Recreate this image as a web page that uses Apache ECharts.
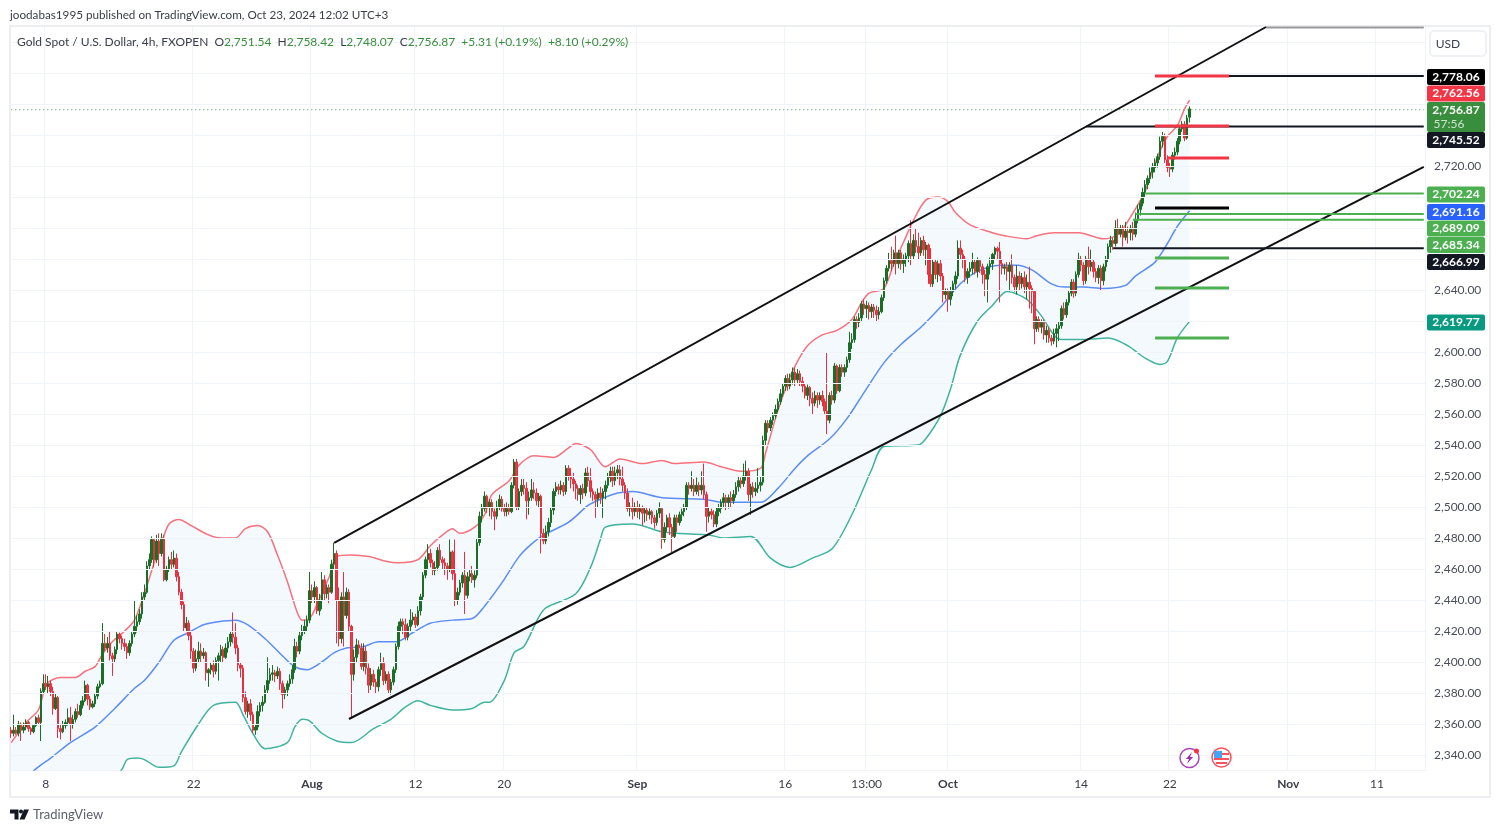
<!DOCTYPE html>
<html>
<head>
<meta charset="utf-8">
<style>
html, body { margin: 0; padding: 0; background: #fff; }
#chart { width: 1500px; height: 832px; }
</style>
<script src="https://cdn.jsdelivr.net/npm/echarts@6/dist/echarts.min.js"></script>
</head>
<body>
<div id="chart"></div>
<script>
// 4h bars, each row is [open, close, low, high]
const julyBars = [
[2356,2354,2351,2358],[2354,2356,2352,2366],[2356,2354,2353,2358],[2354,2360,2352,2362],[2360,2356,2349,2361],[2356,2358,2354,2361],[2358,2361,2356,2363],[2361,2357,2355,2362],[2357,2355,2353,2358],[2355,2359,2354,2360],
[2359,2364,2358,2365],[2364,2361,2360,2366],[2361,2381,2349,2383],[2381,2386,2380,2392],[2386,2384,2382,2392],[2384,2386,2380,2391],[2386,2381,2378,2388],[2381,2370,2366,2384],[2370,2377,2369,2380],[2377,2357,2351,2378],
[2357,2355,2350,2360],[2355,2359,2354,2362],[2359,2361,2357,2363],[2361,2364,2359,2370],[2364,2360,2349,2371],[2360,2363,2357,2366],[2363,2368,2361,2370],[2368,2366,2364,2373],[2366,2372,2365,2375],[2372,2375,2370,2378],
[2375,2385,2374,2388],[2385,2376,2372,2386],[2376,2371,2369,2378],[2371,2373,2370,2375],[2373,2378,2371,2380],[2378,2384,2376,2386],[2384,2386,2383,2388],[2386,2412,2385,2425],[2412,2409,2407,2418],[2409,2412,2406,2416],
[2412,2404,2401,2420],[2404,2402,2391,2406],[2402,2408,2400,2410],[2408,2418,2405,2420],[2418,2415,2412,2419],[2415,2412,2408,2417],[2412,2410,2407,2415],[2410,2406,2402,2412],[2406,2412,2404,2414],[2412,2418,2410,2420],
[2418,2423,2416,2440],[2423,2426,2419,2430],[2426,2431,2424,2434],[2431,2442,2428,2445],[2442,2445,2440,2450],[2445,2462,2444,2465],[2462,2466,2460,2470],[2466,2479,2464,2481],[2479,2466,2461,2480],[2466,2478,2464,2482],
[2478,2470,2462,2483],[2470,2480,2468,2483],[2480,2453,2452,2482],[2453,2460,2452,2462],[2460,2466,2458,2468],[2466,2463,2460,2471],[2463,2467,2461,2472],[2467,2455,2452,2470],[2455,2445,2443,2458],[2445,2437,2434,2447],
[2437,2422,2420,2439],[2422,2425,2420,2429],[2425,2417,2414,2427],[2417,2407,2402,2420],[2407,2396,2393,2409],[2396,2402,2394,2408],[2402,2407,2400,2413],[2407,2404,2400,2412],[2404,2406,2402,2409],[2406,2393,2388,2407],
[2393,2395,2384,2396],[2395,2398,2392,2400],[2398,2394,2390,2401],[2394,2401,2392,2403],[2401,2404,2388,2406],[2404,2408,2400,2411],[2408,2403,2400,2410],[2403,2409,2402,2412],[2409,2413,2406,2416],[2413,2418,2410,2420],
[2418,2416,2412,2432],[2416,2409,2405,2425],[2409,2398,2394,2411],[2398,2396,2390,2400],[2396,2377,2374,2398],[2377,2368,2366,2381],[2368,2373,2364,2375],[2373,2366,2362,2376],[2366,2356,2354,2368],[2356,2358,2353,2360],
[2358,2368,2356,2372],[2368,2372,2365,2374],[2372,2374,2368,2378],[2374,2382,2373,2385],[2382,2388,2380,2403],[2388,2392,2386,2396],[2392,2393,2388,2398],[2393,2391,2387,2395],[2391,2394,2389,2397],[2394,2386,2382,2396],
[2386,2379,2370,2388],[2379,2382,2376,2384],[2382,2386,2378,2388],[2386,2389,2384,2392],[2389,2395,2386,2398],[2395,2410,2393,2415],[2410,2407,2403,2413],[2407,2417,2405,2420],[2417,2420,2414,2424],[2420,2423,2418,2427],
[2423,2427,2420,2430],[2427,2446,2425,2458]
]
const augustBars = [
[2446,2442,2438,2450],[2442,2448,2438,2452],[2448,2433,2431,2449],[2433,2440,2430,2444],[2440,2453,2434,2458],[2453,2444,2440,2456],[2444,2448,2441,2450],[2448,2445,2438,2450],
[2445,2463,2444,2466],[2463,2470,2460,2477],[2470,2440,2412,2472],[2440,2415,2410,2448],[2415,2442,2412,2445],[2442,2430,2410,2458],[2430,2445,2428,2448],[2445,2423,2420,2447],[2423,2392,2364,2424],[2392,2403,2388,2408],
[2403,2411,2400,2415],[2411,2409,2405,2414],[2409,2397,2395,2412],[2397,2407,2394,2412],[2407,2396,2392,2410],[2396,2385,2380,2399],[2385,2392,2382,2396],[2392,2387,2384,2395],[2387,2384,2380,2389],[2384,2395,2381,2397],
[2395,2399,2391,2406],[2399,2388,2385,2403],[2388,2392,2386,2394],[2392,2382,2380,2394],[2382,2387,2379,2389],[2387,2395,2385,2397],[2395,2410,2393,2412],[2410,2423,2408,2426],[2423,2426,2420,2428],[2426,2424,2418,2428],
[2424,2416,2414,2428],[2416,2423,2414,2425],[2423,2427,2420,2434],[2427,2429,2424,2432],[2429,2424,2422,2431],[2424,2433,2423,2436],[2433,2442,2430,2444],[2442,2456,2440,2458],[2456,2466,2454,2468],[2466,2470,2460,2476],
[2470,2464,2461,2473],[2464,2459,2456,2466],[2459,2461,2456,2465],[2461,2472,2459,2474],[2472,2466,2462,2476],[2466,2464,2460,2468],[2464,2462,2456,2467],[2462,2460,2453,2464],[2460,2471,2458,2479],[2471,2457,2453,2472],
[2457,2440,2436,2479],[2440,2445,2437,2448],[2445,2451,2443,2453],[2451,2456,2448,2458],[2456,2443,2431,2471],[2443,2455,2441,2458],[2455,2457,2452,2460],[2457,2453,2451,2462],[2453,2456,2448,2459],[2456,2477,2454,2480],
[2477,2494,2475,2497],[2494,2499,2490,2502],[2499,2507,2497,2510],[2507,2500,2496,2508],[2500,2503,2494,2505],[2503,2497,2492,2505],[2497,2494,2485,2499],[2494,2500,2492,2504],[2500,2505,2498,2508],[2505,2499,2497,2507],
[2499,2497,2494,2502],[2497,2499,2494,2503],[2499,2497,2495,2502],[2497,2514,2496,2516],[2514,2529,2512,2531],[2529,2500,2498,2531],[2500,2510,2498,2512],[2510,2514,2507,2518],[2514,2512,2508,2518],[2512,2504,2492,2516],
[2504,2506,2495,2510],[2506,2511,2504,2518],[2511,2509,2505,2516],[2509,2504,2501,2512],[2504,2507,2500,2509],[2507,2483,2470,2508],[2483,2478,2476,2486],[2478,2484,2476,2488],[2484,2490,2481,2493],[2490,2498,2487,2500],
[2498,2510,2495,2512],[2510,2513,2507,2516],[2513,2511,2508,2515],[2511,2514,2508,2517],[2514,2510,2507,2516],[2510,2525,2508,2527],[2525,2520,2517,2527],[2520,2518,2512,2525],[2518,2515,2510,2522],[2515,2512,2505,2517],
[2512,2508,2504,2514],[2508,2512,2502,2514],[2512,2509,2505,2515],[2509,2522,2507,2525],[2522,2517,2513,2526],[2517,2510,2506,2525],[2510,2508,2504,2512],[2508,2505,2493,2510],[2505,2509,2500,2512],[2509,2506,2502,2513],
[2506,2510,2493,2512],[2510,2514,2505,2517],[2514,2519,2512,2522],[2519,2523,2516,2526],[2523,2517,2513,2526],[2517,2522,2514,2526],[2522,2524,2518,2527],[2524,2518,2514,2527],[2518,2514,2510,2526],[2514,2509,2505,2516],
[2509,2499,2497,2512],[2499,2500,2494,2503],[2500,2497,2492,2506],[2497,2500,2494,2503]
]
const septemberBars = [
[2500,2497,2493,2504],[2497,2499,2492,2502],[2499,2496,2488,2501],[2496,2498,2490,2500],[2498,2495,2491,2500],[2495,2497,2492,2499],[2497,2493,2489,2498],[2493,2490,2486,2495],[2490,2496,2488,2498],[2496,2499,2493,2503],
[2499,2479,2473,2500],[2479,2487,2477,2490],[2487,2493,2484,2495],[2493,2487,2482,2496],[2487,2481,2471,2489],[2481,2493,2480,2495],[2493,2490,2484,2495],[2490,2495,2488,2497],[2495,2497,2491,2499],[2497,2500,2494,2502],
[2500,2514,2498,2516],[2514,2512,2508,2516],[2512,2514,2510,2523],[2514,2510,2507,2518],[2510,2514,2508,2519],[2514,2511,2507,2516],[2511,2514,2508,2523],[2514,2508,2505,2528],[2508,2494,2484,2510],[2494,2497,2490,2500],
[2497,2495,2492,2499],[2495,2489,2487,2498],[2489,2497,2487,2500],[2497,2499,2494,2502],[2499,2503,2496,2505],[2503,2506,2500,2509],[2506,2503,2498,2508],[2503,2506,2499,2508],[2506,2504,2500,2510],[2504,2508,2502,2511],
[2508,2513,2506,2516],[2513,2517,2510,2520],[2517,2515,2512,2519],[2515,2520,2513,2528],[2520,2523,2517,2530],[2523,2508,2504,2525],[2508,2513,2495,2515],[2513,2510,2506,2516],[2510,2512,2507,2516],[2512,2514,2509,2525],
[2514,2516,2510,2520],[2516,2543,2514,2546],[2543,2554,2540,2556],[2554,2551,2548,2556],[2551,2556,2549,2558],[2556,2559,2553,2561],[2559,2563,2557,2566],[2563,2568,2561,2570],[2568,2573,2566,2576],[2573,2578,2571,2580],
[2578,2583,2575,2585],[2583,2578,2575,2586],[2578,2582,2576,2586],[2582,2587,2579,2590],[2587,2582,2578,2590],[2582,2586,2580,2589],[2586,2581,2578,2588],[2581,2578,2574,2584],[2578,2572,2570,2580],[2572,2577,2569,2579],
[2577,2570,2565,2578],[2570,2567,2560,2574],[2567,2572,2565,2575],[2572,2569,2564,2574],[2569,2572,2566,2574],[2572,2568,2565,2575],[2568,2562,2560,2570],[2562,2556,2547,2600],[2556,2572,2554,2574],[2572,2569,2566,2575],
[2569,2591,2567,2593],[2591,2575,2573,2592],[2575,2590,2574,2592],[2590,2587,2584,2592],[2587,2590,2584,2592],[2590,2595,2587,2597],[2595,2606,2593,2613],[2606,2608,2602,2612],[2608,2621,2606,2623],[2621,2619,2615,2623],
[2619,2622,2616,2625],[2622,2631,2620,2633],[2631,2628,2624,2634],[2628,2630,2622,2633],[2630,2626,2621,2632],[2626,2629,2622,2631],[2629,2627,2622,2631],[2627,2624,2620,2630],[2624,2626,2621,2629],[2626,2635,2625,2637],
[2635,2646,2633,2648],[2646,2654,2644,2656],[2654,2659,2652,2664],[2659,2657,2652,2668],[2657,2664,2655,2666],[2664,2657,2650,2675],[2657,2664,2654,2666],[2664,2657,2653,2666],[2657,2660,2651,2663],[2660,2662,2655,2664],
[2662,2670,2658,2672],[2670,2662,2656,2685],[2662,2672,2660,2676],[2672,2668,2664,2680],[2668,2664,2660,2677],[2664,2672,2662,2674],[2672,2666,2662,2675],[2666,2669,2656,2671],[2669,2650,2644,2670],[2650,2644,2642,2667],
[2644,2658,2642,2660],[2658,2650,2647,2660],[2650,2657,2645,2659],[2657,2649,2646,2660],[2649,2637,2632,2651],[2637,2639,2634,2641]
]
const octoberBars = [
[2639,2634,2626,2641],[2634,2639,2630,2642],[2639,2644,2636,2646],[2644,2649,2641,2652],[2649,2667,2647,2672],[2667,2663,2660,2672],[2663,2660,2654,2666],[2660,2648,2645,2662],[2648,2652,2644,2654],[2652,2654,2648,2658],
[2654,2658,2650,2664],[2658,2652,2650,2660],[2652,2659,2648,2661],[2659,2655,2651,2660],[2655,2650,2644,2657],[2650,2647,2636,2653],[2647,2655,2632,2657],[2655,2657,2650,2661],[2657,2663,2653,2664],[2663,2667,2660,2668],
[2667,2665,2660,2668],[2665,2657,2632,2671],[2657,2654,2650,2660],[2654,2655,2650,2657],[2655,2652,2646,2658],[2652,2656,2640,2658],[2656,2648,2644,2663],[2648,2642,2639,2650],[2642,2649,2637,2656],[2649,2644,2640,2652],
[2644,2648,2641,2651],[2648,2642,2638,2652],[2642,2645,2634,2650],[2645,2641,2628,2655],[2641,2639,2625,2643],[2639,2615,2605,2640],[2615,2621,2613,2623],[2621,2616,2613,2623],[2616,2619,2612,2621],[2619,2611,2608,2621],
[2611,2614,2606,2617],[2614,2609,2606,2616],[2609,2607,2604,2611],[2607,2612,2605,2615],[2612,2615,2603,2618],[2615,2617,2607,2620],[2617,2628,2615,2630],[2628,2624,2621,2632],[2624,2632,2622,2634],[2632,2638,2630,2640],
[2638,2645,2636,2647],[2645,2638,2635,2647],[2638,2650,2636,2652],[2650,2660,2648,2664],[2660,2656,2652,2662],[2656,2646,2643,2658],[2646,2660,2644,2662],[2660,2655,2650,2668],[2655,2658,2652,2666],[2658,2652,2648,2660],
[2652,2648,2645,2654],[2648,2654,2644,2656],[2654,2646,2640,2656],[2646,2655,2643,2657],[2655,2660,2652,2662],[2660,2668,2658,2670],[2668,2672,2664,2675],[2672,2670,2666,2674],[2670,2680,2668,2685],[2680,2676,2670,2686],
[2676,2680,2674,2682],[2680,2674,2668,2682],[2674,2678,2672,2684],[2678,2677,2670,2681],[2677,2680,2672,2682],[2680,2676,2672,2684],[2676,2685,2674,2690],[2685,2692,2683,2695],[2692,2696,2688,2698],[2696,2703,2694,2706],
[2703,2708,2700,2711],[2708,2712,2705,2714],[2712,2716,2709,2719],[2716,2719,2712,2722],[2719,2722,2716,2725],[2722,2726,2719,2728],[2726,2736,2724,2739],[2736,2739,2732,2742],[2739,2724,2722,2741],[2724,2719,2716,2727],
[2719,2718,2713,2722],[2718,2727,2716,2729],[2727,2729,2724,2732],[2729,2736,2727,2738],[2736,2744,2734,2746],[2744,2747,2742,2749],[2747,2738,2736,2749],[2738,2751,2737,2753],[2751.54,2756.87,2748.07,2758.42]
]

// bollinger bands as [bar number, price]
const upperBand = [[0,2348],[6,2361],[11,2369],[14,2385],[16,2388],[20,2390],[26,2390],[30,2394],[34,2397],[37,2405],[41,2413],[46,2420],[50,2427],[54,2444],[58,2464],[61,2477],[64,2489],[68,2492],[73,2488],[80,2482],[85,2480],[91,2480],[95,2486],[100,2488],[104,2484],[108,2469],[112,2452],[116,2432],[118,2427],[121,2428],[124,2437],[129,2455],[132,2468],[138,2469],[145,2468],[152,2465],[157,2464],[165,2466],[170,2475],[175,2482],[179,2486],[182,2483],[188,2487],[192,2495],[195,2508],[202,2517],[206,2527],[212,2533],[220,2532],[226,2538],[229,2541],[235,2537],[241,2526],[247,2531],[256,2528],[264,2530],[269,2528],[281,2529],[288,2526],[296,2523],[304,2525],[306,2535],[310,2557],[314,2576],[318,2591],[323,2604],[329,2611],[335,2614],[341,2621],[345,2632],[348,2638],[354,2641],[358,2657],[362,2671],[366,2685],[371,2698],[376,2700],[380,2697],[383,2690],[389,2682],[398,2677],[403,2675],[412,2673],[416,2675],[423,2677],[433,2677],[443,2673],[449,2676],[454,2687],[460,2704],[465,2726],[469,2739],[473,2746],[476,2757],[478,2762.56]]
const basisBand = [[0,2316],[10,2331],[16,2338],[24,2348],[34,2358],[42,2370],[50,2383],[54,2388],[60,2400],[66,2414],[72,2419],[78,2424],[84,2426],[91,2427],[96,2424],[103,2415],[110,2404],[115,2397],[120,2395],[126,2400],[131,2406],[136,2409],[143,2410],[149,2413],[156,2413],[163,2419],[170,2425],[179,2427],[187,2428],[192,2436],[199,2451],[206,2468],[211,2476],[216,2482],[226,2490],[234,2501],[239,2505],[246,2509],[252,2510],[264,2506],[281,2505],[289,2503],[304,2503],[311,2512],[318,2525],[323,2533],[332,2544],[339,2557],[346,2574],[354,2593],[361,2605],[369,2616],[377,2629],[385,2644],[392,2652],[401,2656],[408,2656],[414,2653],[422,2644],[427,2642],[435,2642],[443,2641],[452,2643],[456,2649],[464,2658],[469,2670],[473,2681],[478,2691.16]]
const lowerBand = [[0,2290],[20,2305],[40,2322],[45,2331],[47,2337],[51,2338],[54,2337],[60,2332],[66,2333],[69,2342],[76,2360],[82,2372],[91,2374],[94,2366],[98,2354],[103,2344],[112,2348],[115,2358],[118,2363],[121,2362],[126,2354],[132,2349],[138,2348],[147,2357],[154,2363],[160,2371],[165,2375],[170,2372],[179,2369],[187,2370],[192,2374],[194,2374],[200,2388],[204,2406],[208,2410],[214,2429],[217,2435],[229,2444],[235,2461],[239,2479],[241,2487],[252,2489],[264,2484],[270,2483],[283,2482],[289,2480],[300,2481],[308,2467],[316,2461],[325,2467],[333,2473],[341,2495],[349,2524],[354,2539],[368,2540],[371,2544],[377,2559],[381,2576],[385,2598],[392,2620],[398,2630],[404,2639],[412,2634],[418,2623],[423,2611],[426,2608],[435,2608],[445,2609],[453,2604],[460,2596],[466,2592],[469,2594],[473,2609],[478,2619.77]]

// drawn lines, [from bar, from price, to bar, to price]
const channelLines = [[131,2476.8,509,2809.7],[137,2363.2,573,2719.4]]
const thinBlackLevels = [[464,573,2778.06],[436,573,2745.52],[447,573,2666.99]]
const thickRedLevels = [[464,494,2778.06],[464,494,2745.9],[469,494,2725.2]]
const thickBlackLevels = [[464,494,2692.9]]
const thinGreenLevels = [[460,573,2702.24],[456,573,2689.09],[455,573,2685.34]]
const thickGreenLevels = [[464,494,2660.6],[464,494,2641.3],[464,494,2609]]
const lastPriceLine = 2756.3

const gridPrices = [2340,2360,2380,2400,2420,2440,2460,2480,2500,2520,2540,2560,2580,2600,2620,2640,2660,2680,2700,2720,2740,2760,2780,2800]
const labelPrices = [2340,2360,2380,2400,2420,2440,2460,2480,2500,2520,2540,2560,2580,2600,2640,2720]
const tickLabels = { '07-08 00': '8', '07-22 00': '22', '08-01 00': 'Aug', '08-12 00': '12', '08-20 00': '20', '09-02 00': 'Sep', '09-16 00': '16', '09-23 12': '13:00', '10-01 00': 'Oct', '10-14 00': '14', '10-22 00': '22', '11-01 00': 'Nov', '11-11 00': '11' }
const monthLabels = ['Aug', 'Sep', 'Oct', 'Nov']

// price tags right of the plot: text, colour, centre y of the tag
const priceTags = [
    ['2,778.06', '#000000', 77],
    ['2,762.56', '#f23645', 93.5],
    ['2,745.52', '#131722', 140],
    ['2,702.24', '#4caf50', 194.5],
    ['2,691.16', '#2962ff', 212],
    ['2,689.09', '#4caf50', 228.5],
    ['2,685.34', '#4caf50', 245],
    ['2,666.99', '#131722', 262],
    ['2,619.77', '#089981', 322.5]
]

const FONT = 'Lato, "Noto Sans", sans-serif'
const SLOTS = 574

// trading days only, six 4h bars each, first bar is 3 Jul 16:00
function buildCategories() {
    const list = []
    const day = new Date(Date.UTC(2024, 6, 3))
    let skip = 4
    while (list.length < SLOTS) {
        const wd = day.getUTCDay()
        if (wd !== 0 && wd !== 6) {
            for (let h = 0; h < 24; h += 4) {
                if (skip > 0) { skip--; continue }
                const mm = String(day.getUTCMonth() + 1).padStart(2, '0')
                const dd = String(day.getUTCDate()).padStart(2, '0')
                list.push(mm + '-' + dd + ' ' + String(h).padStart(2, '0'))
            }
        }
        day.setUTCDate(day.getUTCDate() + 1)
    }
    return list.slice(0, SLOTS)
}

function lineSeries(data, color, width, extra) {
    return Object.assign({
        type: 'line',
        data: data,
        showSymbol: false,
        silent: true,
        z: 5,
        lineStyle: { color: color, width: width }
    }, extra)
}

function levelSeries(levels, color, width, z) {
    return levels.map(l => lineSeries([[l[0], l[2]], [l[1], l[2]]], color, width, { z: z }))
}

function tagGraphics() {
    const out = []
    priceTags.forEach(t => {
        out.push({ type: 'rect', shape: { x: 1427, y: t[2] - 8, width: 58, height: 16, r: 2 }, style: { fill: t[1] }, z: 20, silent: true })
        out.push({ type: 'text', x: 1456, y: t[2], style: { text: t[0], fill: '#fff', font: 'bold 12px ' + FONT, align: 'center', verticalAlign: 'middle' }, z: 21, silent: true })
    })
    out.push({ type: 'rect', shape: { x: 1427, y: 102, width: 58, height: 30, r: 2 }, style: { fill: '#388e3c' }, z: 20, silent: true })
    out.push({ type: 'text', x: 1456, y: 110, style: { text: '2,756.87', fill: '#fff', font: 'bold 12px ' + FONT, align: 'center', verticalAlign: 'middle' }, z: 21, silent: true })
    out.push({ type: 'text', x: 1449, y: 124, style: { text: '57:56', fill: 'rgba(255,255,255,0.75)', font: '12px ' + FONT, align: 'center', verticalAlign: 'middle' }, z: 21, silent: true })
    return out
}

function chromeGraphics() {
    return [
        { type: 'rect', shape: { x: 10, y: 26, width: 1480, height: 771 }, style: { fill: 'none', stroke: '#eceef3', lineWidth: 2 }, silent: true },
        { type: 'rect', shape: { x: 1430, y: 31, width: 56, height: 25, r: 4 }, style: { fill: '#fff', stroke: '#eff1f5', lineWidth: 2 }, silent: true },
        { type: 'text', x: 1448, y: 44, style: { text: 'USD', fill: '#3d4150', font: '12px ' + FONT, align: 'center', verticalAlign: 'middle' }, silent: true },
        // event icons
        { type: 'circle', shape: { cx: 1189.5, cy: 758, r: 9.5 }, style: { fill: '#fff', stroke: '#ab47bc', lineWidth: 1.5 }, z: 22, silent: true },
        { type: 'polygon', shape: { points: [[1192, 752], [1186, 759], [1189, 759], [1187, 764], [1193, 757], [1190, 757]] }, style: { fill: '#9c27b0' }, z: 23, silent: true },
        { type: 'circle', shape: { cx: 1196.5, cy: 751, r: 2.5 }, style: { fill: '#f23645' }, z: 23, silent: true },
        { type: 'circle', shape: { cx: 1221.5, cy: 757.5, r: 9.5 }, style: { fill: '#fff', stroke: '#f7525f', lineWidth: 1.5 }, z: 22, silent: true },
        { type: 'rect', shape: { x: 1214, y: 753, width: 15, height: 2 }, style: { fill: '#f7525f' }, z: 23, silent: true },
        { type: 'rect', shape: { x: 1214, y: 758, width: 15, height: 2 }, style: { fill: '#f7525f' }, z: 23, silent: true },
        { type: 'rect', shape: { x: 1216, y: 762, width: 11, height: 2 }, style: { fill: '#f7525f' }, z: 23, silent: true },
        { type: 'rect', shape: { x: 1214, y: 751, width: 8, height: 7 }, style: { fill: '#42a5f5' }, z: 24, silent: true },
        // TradingView logo
        { type: 'polygon', shape: { points: [[10, 809.5], [18.5, 809.5], [18.5, 819.5], [14.5, 819.5], [14.5, 813.5], [10, 813.5]] }, style: { fill: '#131722' }, silent: true },
        { type: 'circle', shape: { cx: 21, cy: 811.5, r: 2 }, style: { fill: '#131722' }, silent: true },
        { type: 'polygon', shape: { points: [[24, 809.5], [29, 809.5], [24.5, 819.5], [19.5, 819.5]] }, style: { fill: '#131722' }, silent: true },
        { type: 'text', x: 33, y: 815, style: { text: 'TradingView', fill: '#5d606b', font: '13px ' + FONT, verticalAlign: 'middle' }, silent: true }
    ]
}

function init() {
    const echart = echarts.init(document.getElementById('chart'))
    const categories = buildCategories()
    const candles = julyBars.concat(augustBars, septemberBars, octoberBars)
    const showTick = (i, value) => tickLabels[value] !== undefined
    const options = {
        backgroundColor: '#fff',
        animation: false,
        title: [
            {
                text: 'joodabas1995 published on TradingView.com, Oct 23, 2024 12:02 UTC+3',
                left: 5, top: 4,
                textStyle: { fontSize: 11.7, fontWeight: 'normal', color: '#3a3d48', fontFamily: FONT }
            },
            {
                text: '{d|Gold Spot / U.S. Dollar, 4h, FXOPEN  O}{g|2,751.54}{d|  H}{g|2,758.42}{d|  L}{g|2,748.07}{d|  C}{g|2,756.87}{g|  +5.31 (+0.19%)  +8.10 (+0.29%)}',
                left: 12, top: 31,
                textStyle: {
                    fontSize: 12,
                    fontWeight: 'normal',
                    fontFamily: FONT,
                    rich: {
                        d: { fontSize: 12, fontWeight: 'normal', color: '#3a3d48', fontFamily: FONT },
                        g: { fontSize: 12, fontWeight: 'normal', color: '#388e3c', fontFamily: FONT }
                    }
                }
            }
        ],
        grid: { left: 10, right: 75, top: 27, bottom: 62 },
        xAxis: {
            type: 'category',
            data: categories,
            axisLine: { lineStyle: { color: '#f0f3fa' } },
            axisTick: { show: false },
            axisLabel: {
                interval: showTick,
                margin: 8,
                fontSize: 12,
                fontFamily: FONT,
                color: '#3a3d48',
                formatter: value => {
                    const text = tickLabels[value] || ''
                    return monthLabels.includes(text) ? '{m|' + text + '}' : text
                },
                rich: { m: { fontSize: 12, fontWeight: 'bold', color: '#3a3d48', fontFamily: FONT } }
            },
            splitLine: { show: true, interval: showTick, lineStyle: { color: '#f0f3fa', width: 1 } }
        },
        yAxis: {
            type: 'value',
            position: 'right',
            min: 2330.3,
            max: 2809.7,
            axisLine: { show: true, lineStyle: { color: '#f0f3fa' } },
            axisTick: { show: false },
            splitLine: { show: false },
            axisLabel: {
                customValues: labelPrices,
                margin: 9,
                fontSize: 12,
                fontFamily: FONT,
                color: '#4a4e59',
                formatter: v => v.toLocaleString('en-US', { minimumFractionDigits: 2 })
            }
        },
        graphic: chromeGraphics().concat(tagGraphics()),
        series: [
            {
                type: 'line',
                data: [],
                silent: true,
                z: 0,
                markLine: {
                    silent: true,
                    symbol: 'none',
                    label: { show: false },
                    lineStyle: { color: '#f0f3fa', width: 1, type: 'solid' },
                    data: gridPrices.map(p => ({ yAxis: p }))
                }
            },
            {
                type: 'custom',
                silent: true,
                clip: true,
                z: 1,
                data: [[0, 2400]],
                renderItem: (params, api) => ({
                    type: 'polygon',
                    shape: { points: upperBand.concat(lowerBand.slice().reverse()).map(p => api.coord(p)) },
                    style: { fill: '#f4f9fe' }
                })
            },
            lineSeries(upperBand, '#f7717c', 1.5, { smooth: 0.3, z: 2 }),
            lineSeries(basisBand, '#5c8df6', 1.5, { smooth: 0.3, z: 2 }),
            lineSeries(lowerBand, '#3fb39d', 1.5, { smooth: 0.3, z: 2 }),
            {
                type: 'candlestick',
                data: candles,
                barWidth: 2,
                silent: true,
                z: 3,
                itemStyle: {
                    color: '#1b6e25',
                    color0: '#f23645',
                    borderColor: '#1b6e25',
                    borderColor0: '#e5303f',
                    borderWidth: 1
                }
            },
            lineSeries([[0, lastPriceLine], [573, lastPriceLine]], '#4f9f52', 1, { z: 4, lineStyle: { color: '#4f9f52', width: 1, type: [1, 3] } }),
            lineSeries([[509, 2809.3], [573, 2809.3]], '#9a9a9a', 2),
            ...channelLines.map(l => lineSeries([[l[0], l[1]], [l[2], l[3]]], '#111111', 2)),
            ...levelSeries(thinBlackLevels, '#131722', 2, 5),
            ...levelSeries(thinGreenLevels, '#4caf50', 2, 5),
            ...levelSeries(thickRedLevels, '#f23645', 3, 6),
            ...levelSeries(thickBlackLevels, '#000000', 3, 6),
            ...levelSeries(thickGreenLevels, '#4caf50', 3, 6)
        ]
    }
    echart.setOption(options)
}

init()
</script>
</body>
</html>
